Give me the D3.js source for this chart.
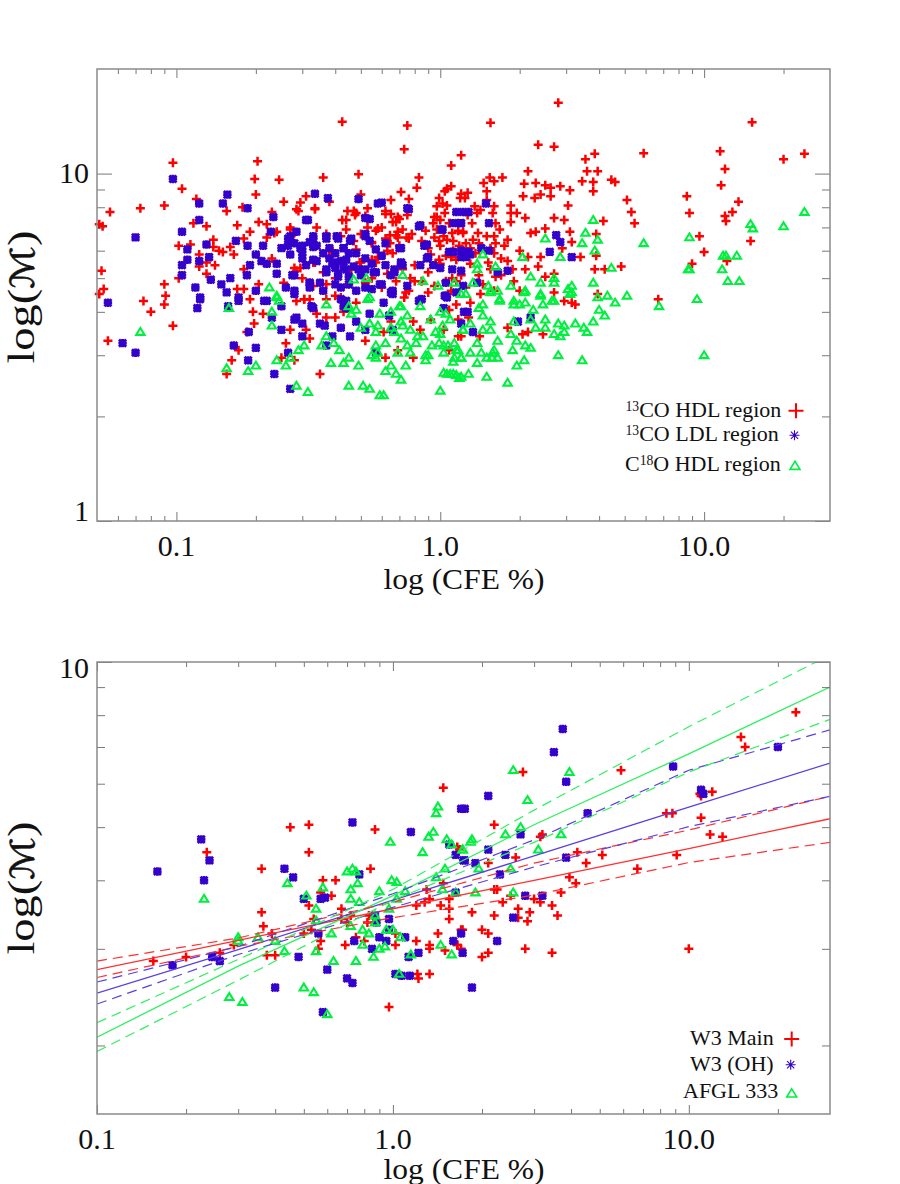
<!DOCTYPE html>
<html><head><meta charset="utf-8">
<script src="https://cdn.jsdelivr.net/npm/d3@7"></script>
<style>html,body{margin:0;padding:0;background:#fff}svg{display:block}text{font-family:"Liberation Serif","Times New Roman",serif;fill:#111}</style>
</head><body><div id="c"></div>
<script>
// Top panel: [CFE %, Mach number]
const hdl13CO = [[0.097,10.75],[0.105,9.05],[0.09,8.1],[0.073,7.95],[0.056,7.75],[0.051,7.15],[0.0525,7.05],[0.203,10.85],[0.198,9.65],[0.245,9.6],[0.2,8.7],[0.255,8.3],[0.295,8.25],[0.285,7.9],[0.31,8.6],[0.335,7.95],[0.36,9.75],[0.49,9.95],[0.425,14.1],[0.75,13.75],[0.73,11.75],[0.83,9.75],[0.815,9.1],[1.1,10.55],[1.1,9.2],[1.06,9.05],[1.04,8.9],[1.2,8.75],[1.19,8.5],[0.71,8.85],[0.76,8.45],[0.38,8.3],[0.5,8.7],[0.65,8.4],[0.53,7.95],[0.445,7.8],[0.47,7.8],[0.475,7.6],[0.52,7.55],[0.425,7.35],[0.62,7.8],[0.65,7.65],[0.69,7.5],[0.68,7.25],[0.66,7.25],[0.75,7.6],[0.99,8.5],[1.02,8.2],[0.97,8.05],[1.04,7.7],[0.95,7.5],[1.0,7.35],[1.08,7.2],[0.94,7.2],[0.97,6.9],[1.03,6.6],[1.06,6.45],[0.99,6.4],[1.17,6.85],[1.22,6.75],[1.11,6.75],[0.119,8.45],[0.155,7.8],[0.13,7.05],[0.116,7.2],[0.17,7.1],[0.19,6.8],[0.205,7.25],[0.22,7.15],[0.178,8.0],[0.23,7.75],[0.27,7.0],[0.24,6.8],[0.235,6.75],[0.22,6.55],[0.18,6.5],[0.16,6.15],[0.165,5.85],[0.138,6.45],[0.102,6.2],[0.113,6.25],[0.122,5.85],[0.138,6.15],[0.145,6.0],[0.15,5.95],[0.13,5.55],[0.122,5.4],[0.14,5.45],[0.13,5.15],[0.102,5.0],[0.052,5.25],[0.053,4.65],[0.051,4.5],[0.09,4.8],[0.091,4.45],[0.075,4.3],[0.17,4.65],[0.18,4.65],[0.19,4.35],[0.18,5.3],[0.205,4.8],[0.23,5.7],[0.255,4.85],[0.27,6.9],[0.28,6.75],[0.285,5.25],[0.295,5.35],[0.39,6.0],[0.38,5.75],[0.335,5.55],[0.48,6.05],[0.495,5.55],[0.57,5.55],[0.58,5.75],[0.66,5.9],[0.68,6.65],[0.645,6.65],[0.62,6.5],[0.645,6.3],[0.57,6.85],[0.58,6.95],[0.69,6.8],[0.745,6.55],[0.69,6.55],[0.99,5.65],[1.1,5.75],[1.12,6.0],[1.15,5.65],[1.11,5.0],[0.9,4.55],[0.74,4.55],[0.37,4.8],[0.4,4.45],[0.305,4.35],
[2.8,16],[1.55,14.0],[2.35,12.1],[2.7,11.95],[1.2,11.3],[3.85,11.4],[3.55,11.0],[3.6,10.15],[3.95,10.15],[3.45,9.5],[3.8,9.45],[3.8,8.9],[4.45,9.6],[4.6,9.45],[5.9,11.45],[5.1,8.4],[5.3,7.75],[5.45,7.2],[4.15,7.3],[2.15,10.15],[2.08,9.35],[2.3,9.4],[2.5,9.25],[2.62,9.1],[2.85,9.2],[3.1,8.95],[2.06,8.6],[2.4,8.7],[2.28,8.5],[2.62,8.6],[3.05,8.1],[2.7,7.45],[2.95,7.35],[2.5,6.95],[2.2,6.75],[3.1,6.8],[3.15,6.35],[2.3,6.8],[3.9,6.7],[2.9,6.1],[2.0,6.0],[2.15,5.75],[2.4,5.75],[2.35,5.4],[2.1,5.3],[2.5,5.05],[2.7,5.15],[3.4,5.75],[3.9,5.8],[3.85,5.3],[4.2,5.3],[4.85,5.4],[1.6,8.05],[1.85,8.1],[1.58,7.7],[1.85,7.7],[1.95,7.7],[2.1,7.45],[1.85,7.25],[1.62,7.2],[1.68,6.9],[1.6,6.6],[1.8,6.45],[1.24,8.5],[1.27,8.8],[1.46,9.4],[1.54,9.75],[1.6,9.5],[1.72,9.75],[1.5,8.9],[1.5,8.4],[1.35,8.05],[1.42,7.85],[1.38,7.7],[1.27,7.6],[1.32,7.2],[1.22,6.8],[1.39,6.75],[1.33,6.45],[1.62,6.3],[1.6,5.9],[1.52,5.55],[1.55,5.3],[1.62,5.05],[1.88,5.3],[1.42,4.5],[8.6,8.6],[8.8,7.7],[9.6,6.6],[10.0,5.95],[9.0,5.5],[11.5,11.6],[12.0,10.3],[11.6,9.25],[13.5,8.3],[12.8,7.75],[12,7.55],[12.1,7.3],[15.2,14.05],[20,11.0],[24,11.4],[15,6.4],[12.2,5.6],[6.7,4.35],[3.95,4.5],[2.95,4.3],[3.15,4.25],[3.25,4.2],[2.7,4.55],[2.0,4.6],[1.8,3.6],[2.05,3.45],[2.15,3.5],[2.45,3.45],[1.41,3.4],[1.2,3.4],
[0.055,3.3],[0.08,4.0],[0.09,4.2],[0.097,3.65],[0.162,2.9],[0.172,3.1],[0.185,3.5],[0.195,4.0],[0.197,3.7],[0.213,3.95],[0.26,3.25],[0.27,3.55],[0.32,3.35],[0.31,3.55],[0.285,4.3],[0.305,4.35],[0.35,2.65],[0.155,2.65],[0.25,2.95],[0.28,2.9],[0.62,2.95],[0.79,2.95],[1.08,3.1],[0.69,3.1],[0.61,3.5],[0.52,3.3],[0.65,3.75],[0.79,3.75],[0.84,3.55],[1.15,4.2],[1.08,4.05],[1.17,3.8],[1.17,3.4],[1.03,3.55],[0.92,3.8],[0.37,3.85],[0.4,3.85],[0.43,4.0],[0.34,3.95],[0.37,4.35],[0.42,4.4],[0.48,4.25],[0.73,4.4],[0.85,4.35],
[0.34,7.0],[0.37,6.7],[0.42,6.6],[0.44,6.9],[0.47,6.4],[0.5,6.7],[0.53,7.0],[0.55,6.3],[0.6,7.0],[0.63,6.0],[0.7,6.2],[0.72,6.9],[0.78,6.7],[0.85,6.4],[0.88,6.85],[0.9,6.1],[0.92,5.85],[0.95,6.55],[1.0,6.2],[1.05,5.8],[1.12,6.4],[1.18,6.2],[1.25,6.3],[1.3,6.1],[1.36,5.9],[1.4,6.3],[1.5,6.6],[1.55,6.1],[1.7,5.7],[1.75,6.2],[0.3,5.0],[0.33,4.75],[0.36,5.2],[0.4,5.0],[0.45,4.8],[0.46,5.3],[0.52,4.85],[0.55,5.0],[0.6,4.7],[0.63,5.15],[0.68,4.9],[0.72,5.3],[0.77,5.0],[0.8,5.45],[0.85,4.9],[0.9,5.2],[0.95,4.75],[1.0,5.5],[1.05,4.9],[1.1,4.6],[1.2,5.1],[1.25,4.7],[1.3,5.5],[1.4,5.1],[1.45,4.8],[1.6,4.6],[1.7,5.1],[1.8,5.6],[1.9,4.9],
[0.29,7.8],[0.335,7.9],[0.44,7.35],[0.48,7.7],[0.62,7.65],[0.7,7.4],[0.97,7.5],[1.06,8.1],[0.63,6.4],[0.76,6.5],[0.55,5.65],[0.55,6.35],[0.33,5.55],[0.28,5.35],[0.32,4.35],[0.39,5.9],[0.5,5.55],[0.8,4.9],[0.96,5.5],[1.15,4.9],[0.76,4.6],[1.3,4.25],[1.28,3.85]];
const ldl13CO = [[0.097,9.65],[0.07,6.55],[0.156,8.7],[0.15,8.2],[0.122,8.2],[0.122,7.35],[0.105,6.8],[0.11,6.05],[0.11,5.65],[0.105,5.45],[0.105,5.1],[0.122,5.6],[0.133,5.75],[0.13,6.25],[0.168,6.4],[0.186,7.95],[0.186,6.2],[0.213,6.2],[0.233,7.5],[0.228,6.8],[0.315,7.35],[0.335,8.75],[0.375,8.5],[0.49,8.45],[0.6,8.25],[0.75,7.95],[0.54,7.4],[0.285,6.8],[0.265,6.5],[0.33,6.6],[0.37,6.6],[0.405,6.6],[0.46,6.5],[0.52,6.7],[0.54,6.4],[0.32,6.35],[0.25,6.1],[0.27,5.85],[0.295,6.1],[0.2,5.85],[0.21,5.6],[0.24,5.5],[0.24,5.15],[0.185,5.1],[0.19,5.45],[0.275,5.1],[0.31,5.45],[0.3,5.7],[0.32,4.85],[0.32,4.7],[0.35,4.85],[0.37,5.3],[0.4,5.35],[0.43,6.1],[0.44,5.65],[0.4,5.55],[0.44,5.3],[0.41,5.05],[0.42,4.7],[0.45,4.8],[0.48,5.9],[0.52,5.7],[0.57,6.05],[0.62,5.45],[0.57,5.2],[0.52,5.3],[0.6,4.8],[0.66,4.5],[0.67,5.3],[0.71,5.55],[0.7,6.1],[0.72,5.45],[0.84,7.1],[0.87,6.2],[0.9,5.75],[0.84,5.45],[0.94,5.45],[1.0,5.35],[1.02,6.9],[1.12,7.2],[1.15,7.75],[1.08,5.95],[1.2,6.0],[1.2,5.75],[1.11,5.3],[0.75,4.75],[1.05,4.85],[1.15,4.55],[1.04,4.45],[0.135,4.95],[0.148,4.8],[0.155,4.55],[0.16,5.0],[0.118,4.7],[0.123,4.35],[0.172,4.3],[0.2,4.6],[0.055,4.25],[0.215,4.3],[0.26,4.7],[0.28,4.5],[0.65,4.55],
[0.0625,3.25],[0.07,3.05],[0.12,4.1],[0.123,4.4],[0.157,4.15],[0.172,4.4],[0.22,4.3],[0.25,4.15],[0.23,3.85],[0.25,3.55],[0.188,3.5],[0.165,3.2],[0.2,3.15],[0.265,3.05],[0.187,2.9],[0.235,2.65],[0.27,2.4],[0.285,3.85],[0.3,3.7],[0.3,3.4],[0.325,4.15],[0.35,3.7],[0.365,3.65],[0.39,3.4],[0.455,3.4],[0.42,3.6],[0.48,3.75],[0.54,3.95],[0.52,3.55],[0.43,4.15],[0.61,4.25],[0.85,4.35],[1.05,4.45],[1.03,4.1],[1.23,4.0],[0.57,3.05],[0.66,3.55],[0.37,3.2],
[1.49,8.2],[1.22,7.75],[1.53,7.2],[2.75,6.65],[2.85,6.35],[2.6,5.95],[3.15,5.75],[1.28,5.95],[1.25,5.75],[1.43,6.1],[1.53,6.0],[1.65,5.2],[1.8,5.25],[1.22,4.75],[1.38,4.85],[1.19,7.2],[1.27,4.0],[1.33,3.5],[1.97,3.75],[2.2,3.85],[1.2,3.7],
[0.34,6.2],[0.36,5.9],[0.38,6.1],[0.4,5.9],[0.42,5.6],[0.45,5.9],[0.47,5.4],[0.5,5.1],[0.55,5.5],[0.6,5.8],[0.62,6.3],[0.65,5.1],[0.38,5.7],[0.34,5.6],[0.3,6.2],[0.28,6.3],[0.27,6.6],[0.22,5.5],[0.45,5.05],[0.36,4.6],[0.42,4.35],[0.44,4.1],[0.48,4.6],[0.55,4.65],
[0.31,7.35],[0.33,6.5],[0.37,6.5],[0.41,6.5],[0.455,6.4],[0.52,6.6],[0.76,7.9],[0.83,7.05],[1.01,6.9],[1.28,7.75],[1.2,7.2],[1.12,5.95],[1.3,5.85],[1.2,5.25],[0.89,6.25],[0.71,6.1],[0.89,5.7],[0.71,5.5],[0.56,5.2],[0.67,5.2],[0.43,6.1],[0.265,6.2],[0.3,5.95],[0.33,6.15],[0.33,5.65],[0.28,5.1],[0.37,5.2],[0.41,5.15],[0.39,5.5],[0.43,5.38],[0.49,5.3],[0.4,4.8],[0.52,4.7],[0.59,4.8],[0.66,4.6],[0.28,4.6],[0.32,4.85],[0.33,4.1],[0.28,3.8],[0.44,4.3],[0.64,3.9],[0.83,4.3],[1.06,4.4],[0.58,8.2],[0.52,7.45]];
const hdlC18O = [[0.225,4.7],[0.24,4.4],[0.47,4.95],[0.525,5.0],[0.72,5.1],[0.86,4.9],[0.98,4.75],[1.13,4.85],[1.2,4.5],[0.53,4.35],[3.8,7.35],[3.55,6.75],[3.95,6.45],[3.45,6.3],[3.85,6.0],[2.85,5.75],[2.5,6.5],[2.05,5.75],[1.45,5.85],[1.38,5.5],[1.38,5.3],[1.62,5.4],[2.2,5.05],[2.4,4.85],[2.7,5.0],[2.7,4.85],[3.15,4.75],[3.05,4.65],[3.1,4.5],[3.8,4.85],[4.45,5.35],[5.9,6.3],[8.8,6.55],[8.8,5.3],[8.7,5.3],[11.8,5.8],[12.1,5.8],[13.3,5.8],[11.7,5.3],[12.3,4.9],[13.6,4.9],[15,7.15],[15.3,6.95],[20,7.05],[24,7.75],[3.95,4.4],[4.3,4.45],[5.1,4.45],[9.4,4.35],[2.08,4.55],[2.4,4.45],[1.85,4.75],[1.65,4.6],[1.55,4.6],[1.33,4.85],[1.52,4.75],[1.25,4.5],[2.65,4.3],[1.68,4.35],[1.9,4.3],
[6.75,4.15],[4.6,4.25],[4.0,4.05],[4.2,3.9],[3.8,3.75],[3.6,3.5],[3.5,3.6],[3.25,3.7],[2.95,3.65],[2.8,3.7],[2.5,3.8],[2.3,3.6],[2.5,3.6],[2.7,3.45],[2.85,3.4],[2.95,3.5],[2.25,4.05],[2.45,4.2],[2.7,4.3],[3.15,4.55],[2.4,4.5],[2.1,4.6],[2.1,4.25],[1.9,4.2],[2.0,4.2],[2.2,3.8],[1.9,3.75],[1.55,3.75],[1.85,3.45],[1.65,3.3],[1.95,3.3],[2.1,3.2],[2.2,3.15],[1.88,3.1],[2.8,3.0],[3.45,2.9],[10,3.0],[2.08,2.9],[1.95,2.8],[1.8,2.5],[1.5,2.6],[1.28,2.65],[1.2,2.6],[1.38,2.85],[1.2,2.95],[1.17,3.1],[1.38,3.25],[1.3,3.05],[1.43,3.05],[1.5,2.95],[1.58,3.05],[1.6,3.1],[1.65,2.95],[1.57,2.95],[1.22,3.55],[1.3,3.7],[1.45,3.9],[1.4,4.1],[1.45,3.55],[1.55,3.55],[1.45,4.2],[1.68,4.3],[1.55,4.55],
[0.073,3.5],[0.158,4.1],[0.24,4.45],[0.245,4.3],[0.23,4.0],[0.23,3.65],[0.37,4.2],[0.45,4.15],[0.46,3.95],[0.48,4.05],[0.54,4.4],[0.155,2.75],[0.187,2.7],[0.2,2.8],[0.24,2.9],[0.27,2.95],[0.26,2.8],[0.29,3.1],[0.305,3.2],[0.37,3.4],[0.355,3.2],[0.395,3.25],[0.415,3.1],[0.45,2.95],[0.43,2.85],[0.385,2.85],[0.49,2.8],[0.45,2.45],[0.51,2.45],[0.54,2.4],[0.59,2.3],[0.61,2.3],[0.285,2.45],[0.315,2.35],[1.0,2.37],[1.03,2.67],[1.06,2.65],[1.09,2.65],[1.12,2.65],[1.15,2.63],[1.18,2.58],[0.71,2.55],[0.68,2.65],[0.74,2.8],[0.65,2.8],[0.62,2.7],[0.88,2.9],[1.12,2.87],[1.2,2.95],[1.13,2.95],[0.57,2.95],[0.55,3.0],[0.58,3.05],[0.57,3.2],[0.62,3.25],[0.69,3.05],[0.77,3.05],[0.88,3.0],[0.9,3.0],[1.03,3.05],[1.15,3.1],[1.13,3.25],[1.07,3.2],[1.03,3.2],[0.99,3.25],[0.93,3.2],[0.81,3.25],[0.75,3.2],[0.71,3.35],[0.82,3.4],[0.86,3.4],[0.96,3.5],[1.0,3.45],[1.22,3.55],[0.67,3.5],[0.77,3.55],[0.71,3.75],[0.72,3.65],[0.65,3.6],[0.57,3.5],[0.58,3.65],[0.54,3.7],[0.5,3.6],[0.59,3.95],[0.65,4.0],[0.7,4.15],[0.71,4.15],[0.75,3.9],[0.84,4.15],[0.92,3.8],[1.0,4.0],[1.05,3.95],[1.09,3.8],[1.02,3.65]];

// Bottom panel: [CFE %, Mach number]
const w3Main = [[1.48,5.9],[0.45,5.0],[0.52,5.05],[0.87,4.95],[0.235,4.5],[0.52,4.5],[0.36,4.2],[0.84,4.2],[0.58,4.0],[0.64,4.0],[0.62,3.75],[0.52,3.6],[0.36,3.5],[0.67,3.55],[1.2,3.6],[1.33,3.7],[1.28,3.65],[1.45,3.6],[1.55,3.7],[1.55,3.55],[1.48,3.95],[1.3,3.85],[0.83,3.45],[0.72,3.45],[1.68,4.55],[0.57,3.8],[0.54,3.4],[0.155,2.85],[0.2,2.9],[0.26,2.95],[0.29,3.05],[0.365,3.3],[0.39,3.2],[0.5,3.2],[0.53,3.25],[0.67,3.4],[0.375,2.92],[0.4,2.92],[0.56,3.0],[0.57,3.1],[0.69,3.05],[0.8,3.1],[0.75,3.15],[0.82,3.35],[0.7,3.35],[0.97,2.35],[1.02,3.2],[1.02,3.05],[1.2,3.1],[1.33,3.05],[1.33,3.0],[1.42,3.2],[1.5,2.98],[1.22,2.65],[1.21,2.7],[1.33,2.7],[1.55,3.4],[1.72,3.25],[1.65,3.05],[1.7,3.0],[23,8.1],[15,7.3],[15.5,7.0],[5.9,6.35],[2.75,6.3],[10.9,5.75],[12,5.8],[11,5.7],[8.4,5.3],[8.8,5.3],[11,5.2],[11.8,4.85],[13,4.8],[9.1,4.45],[6.7,4.2],[2.2,5.05],[3.15,4.8],[3.2,4.85],[4.2,4.5],[5.1,4.45],[4.5,4.3],[3.95,4.05],[4.15,3.95],[3.7,3.8],[2.6,4.4],[2.1,4.3],[1.65,4.6],[2.2,3.85],[2.25,3.85],[2.5,3.75],[2.35,3.65],[3.0,3.7],[3.15,3.65],[3.45,3.6],[2.65,3.55],[2.9,3.5],[3.6,3.45],[1.85,3.5],[2.2,3.45],[2.65,3.42],[2.85,3.37],[2.0,3.25],[1.7,3.25],[2.1,3.2],[1.65,3.05],[2.8,3.0],[3.45,2.95],[2.1,2.95],[2.0,2.9],[10,3.0]];
const w3OH = [[0.16,4.15],[0.225,4.75],[0.24,4.35],[0.23,4.0],[0.43,4.2],[0.46,4.05],[0.5,3.7],[0.57,3.7],[0.59,3.72],[0.73,5.1],[0.77,4.1],[1.15,4.9],[1.7,5.4],[1.55,4.65],[1.63,4.45],[1.73,4.35],[1.63,3.8],[0.87,3.45],[0.97,3.4],[0.18,2.8],[0.245,2.9],[0.26,2.85],[0.4,2.55],[0.48,2.9],[0.56,3.2],[0.58,2.3],[0.6,2.75],[0.7,2.65],[0.73,2.6],[0.74,3.1],[0.85,3.0],[0.9,3.15],[0.95,3.1],[0.97,3.25],[1.1,3.15],[1.13,2.9],[1.22,2.95],[1.02,2.7],[1.07,2.68],[1.14,2.68],[1.6,3.1],[1.72,2.95],[1.7,3.2],[1.85,2.55],[0.88,3.35],[3.75,7.55],[3.5,6.85],[3.85,6.05],[4.55,5.3],[2.1,5.7],[1.75,5.4],[8.85,6.45],[20,7.0],[11,5.85],[11.2,5.75],[2.7,4.85],[2.1,4.55],[2.4,4.45],[3.85,4.4],[1.75,4.35],[1.9,4.3],[2.3,4.1],[2.8,3.75],[3.2,3.75],[2.55,3.42],[2.25,3.1]];
const afgl333 = [[0.23,3.7],[0.44,3.95],[0.51,3.75],[0.58,3.88],[0.55,3.55],[0.7,4.15],[0.73,4.2],[0.75,4.15],[0.72,3.85],[0.72,3.7],[0.76,3.95],[0.77,3.65],[0.98,4.7],[0.99,4.0],[1.03,3.97],[0.9,3.82],[1.03,3.7],[1.1,3.82],[0.97,3.55],[0.87,3.45],[1.26,4.5],[1.32,4.8],[1.37,4.9],[1.4,5.3],[1.42,5.45],[1.52,4.75],[1.58,4.65],[1.72,4.55],[1.83,4.7],[1.5,4.2],[1.4,4.05],[1.47,3.85],[1.63,3.8],[0.3,3.15],[0.3,3.1],[0.35,3.15],[0.4,3.1],[0.43,2.97],[0.55,2.97],[0.62,3.2],[0.63,2.85],[0.72,3.3],[0.79,3.25],[0.83,3.2],[0.87,3.35],[0.95,3.25],[1.0,3.25],[1.06,3.15],[0.79,3.05],[0.9,3.0],[0.94,3.03],[0.86,2.9],[0.75,2.85],[1.05,2.7],[1.15,2.93],[1.45,3.05],[1.58,2.93],[0.28,2.45],[0.31,2.4],[0.5,2.55],[0.54,2.5],[0.6,2.28],[0.55,3.38],[2.55,6.35],[3.95,6.3],[2.85,5.6],[2.7,5.0],[2.4,4.85],[3.7,4.85],[1.85,4.75],[1.72,4.55],[3.1,4.55],[1.95,4.2],[2.5,4.2],[1.9,3.8],[2.55,3.8]];

// Fitted relations and their error bands, read at these CFE values
const fitCFE = [0.1, 0.3, 1, 3, 10, 30];
const fitMainMid = [2.75, 3.11, 3.55, 4.0, 4.57, 5.18];
const fitMainHigh = [2.85, 3.14, 3.65, 4.3, 4.94, 5.69];
const fitMainLow = [2.66, 3.03, 3.42, 3.76, 4.31, 4.69];
const fitOHMid = [2.49, 2.99, 3.68, 4.43, 5.44, 6.54];
const fitOHHigh = [2.61, 3.03, 3.78, 4.74, 6.35, 7.52];
const fitOHLow = [2.38, 2.93, 3.57, 4.23, 5.01, 5.69];
const fitAFGLMid = [2.07, 2.79, 3.75, 5.05, 6.8, 9.0];
const fitAFGLHigh = [2.2, 2.87, 3.85, 5.37, 7.62, 10.3];
const fitAFGLLow = [1.95, 2.63, 3.68, 4.69, 6.3, 7.86];

const xMinor = [0.06,0.07,0.08,0.09,0.2,0.3,0.4,0.5,0.6,0.7,0.8,0.9,2,3,4,5,6,7,8,9,20];
const xMajorTop = [0.1,1,10];
const xLabelsTop = ["0.1","1.0","10.0"];
const yMinorTop = [2,3,4,5,6,7,8,9];
const xMinorBottom = [0.2,0.3,0.4,0.5,0.6,0.7,0.8,0.9,2,3,4,5,6,7,8,9,20];
const yMinorBottom = [2,3,4,5,6,7,8,9];

const RED="#ff0000", BLUE="#3300cc", GREEN="#00f040", AX="#8a8a8a";
const svg=d3.select("#c").append("svg").attr("width",900).attr("height",1184);

const symPlus=(g,c,s,w)=>g.append("path").attr("d",`M${-s},0H${s}M0,${-s}V${s}`).attr("stroke",c).attr("stroke-width",w).attr("fill","none");
const symStar=(g,c,s,w,f=0.72)=>{const k=s*f;g.append("path").attr("d",`M${-s},0H${s}M0,${-s}V${s}M${-k},${-k}L${k},${k}M${-k},${k}L${k},${-k}`).attr("stroke",c).attr("stroke-width",w).attr("fill","none");};
const symTri=(g,c,s,w)=>g.append("path").attr("d",`M0,${-s*0.95}L${s},${s*0.68}H${-s}Z`).attr("stroke",c).attr("stroke-width",w).attr("fill","none").attr("stroke-linejoin","miter");
const marks=(g,data,x,y,fn)=>data.forEach(d=>fn(g.append("g").attr("transform",`translate(${x(d[0])},${y(d[1])})`)));
const drawPlus=s=>symPlus(s,RED,4.5,2.5);
const drawBlob=s=>symStar(s,BLUE,4.2,2.8,0.85);
const drawTri=s=>symTri(s,GREEN,4.2,2.1);

function axes(g,x,y,L,R,T,B,xMin,yMin,xMaj,yMaj){
  const mk=(gen,tx,ty)=>{const a=g.append("g").attr("transform",`translate(${tx},${ty})`).call(gen);a.select(".domain").remove();a.selectAll("line").attr("stroke","#555").attr("stroke-width",0.8);a.selectAll("text").remove();};
  mk(d3.axisBottom(x).tickValues(xMin).tickSize(-5),0,B);
  mk(d3.axisBottom(x).tickValues(xMaj).tickSize(-9),0,B);
  mk(d3.axisTop(x).tickValues(xMin).tickSize(-5),0,T);
  mk(d3.axisTop(x).tickValues(xMaj).tickSize(-9),0,T);
  mk(d3.axisLeft(y).tickValues(yMin).tickSize(-8),L,0);
  mk(d3.axisLeft(y).tickValues(yMaj).tickSize(-15),L,0);
  mk(d3.axisRight(y).tickValues(yMin).tickSize(-8),R,0);
  mk(d3.axisRight(y).tickValues(yMaj).tickSize(-15),R,0);
  g.append("rect").attr("x",L).attr("y",T).attr("width",R-L).attr("height",B-T).attr("fill","none").attr("stroke",AX).attr("stroke-width",1.5);
}
function ylabel(cx,cy){
  const t=svg.append("text").attr("transform",`translate(${cx},${cy}) rotate(-90)`).attr("x",0).attr("y",0).attr("text-anchor","middle").attr("font-size",38).attr("textLength",133).attr("lengthAdjust","spacingAndGlyphs");
  t.append("tspan").text("log(");
  t.append("tspan").style("font-family","'DejaVu Sans'").attr("font-style","italic").attr("font-size",33).attr("stroke","#111").attr("stroke-width",0.5).text("ℳ");
  t.append("tspan").text(")");
}
function legendRow(x,y,parts,size){
  const t=svg.append("text").attr("x",x).attr("y",y).attr("font-size",size);
  parts.forEach(p=>{t.append("tspan").attr("dy",p[1]?-6:(p[2]?6:0)).attr("font-size",p[1]?size*0.62:size).text(p[0]);});
}

// ---------- top panel
{
 const L=97,R=830,T=69,B=521;
 const x=d3.scaleLog().domain([0.05,30]).range([L,R]);
 const y=d3.scaleLog().domain([1,20]).range([B,T]);
 const g=svg.append("g");
 const m=g.append("g");
 marks(m,hdl13CO,x,y,drawPlus);
 marks(m,ldl13CO,x,y,drawBlob);
 marks(m,hdlC18O,x,y,drawTri);
 axes(g,x,y,L,R,T,B,xMinor,yMinorTop,xMajorTop,[1,10]);
 xMajorTop.forEach((v,i)=>svg.append("text").attr("x",x(v)).attr("y",556).attr("text-anchor","middle").attr("font-size",30).text(xLabelsTop[i]));
 svg.append("text").attr("x",89).attr("y",183).attr("text-anchor","end").attr("font-size",30).text("10");
 svg.append("text").attr("x",89).attr("y",521).attr("text-anchor","end").attr("font-size",30).text("1");
 svg.append("text").attr("x",464).attr("y",589).attr("text-anchor","middle").attr("font-size",29).attr("textLength",161).attr("lengthAdjust","spacingAndGlyphs").text("log (CFE %)");
 ylabel(34,297);
 legendRow(625.5,416.7,[["13",1],["CO HDL region",0,1]],22);
 legendRow(625.5,440.7,[["13",1],["CO LDL region",0,1]],22);
 legendRow(625,471,[["C"],["18",1],["O HDL region",0,1]],22);
 const a=svg.append("g").attr("transform","translate(796,410.7)");symPlus(a,RED,7.5,2);
 const b=svg.append("g").attr("transform","translate(794.5,435.3)");symStar(b,BLUE,5,1.1);
 const c=svg.append("g").attr("transform","translate(795,466)");symTri(c,GREEN,5,1.6);
}
// ---------- bottom panel
{
 const L=97,R=830,T=662,B=1114;
 const x=d3.scaleLog().domain([0.1,30]).range([L,R]);
 const y=d3.scaleLog().domain([1.5,10]).range([B,T]);
 const g=svg.append("g");
 const clip=svg.append("clipPath").attr("id","bclip");
 clip.append("rect").attr("x",L).attr("y",T).attr("width",R-L).attr("height",B-T);
 const m=g.append("g");
 marks(m,w3Main,x,y,drawPlus);
 marks(m,w3OH,x,y,drawBlob);
 marks(m,afgl333,x,y,drawTri);
 const line=d3.line().x((d,i)=>x(fitCFE[i])).y(d=>y(d));
 const lg=g.append("g").attr("clip-path","url(#bclip)").attr("fill","none");
 [[fitMainMid,"#ff3030"],[fitOHMid,"#5a3fe0"],[fitAFGLMid,"#30f060"]].forEach(r=>lg.append("path").attr("d",line(r[0])).attr("stroke",r[1]).attr("stroke-width",1.3));
 [[fitMainHigh,"#ff3030"],[fitMainLow,"#ff3030"],[fitOHHigh,"#5a3fe0"],[fitOHLow,"#5a3fe0"],[fitAFGLHigh,"#30f060"],[fitAFGLLow,"#30f060"]].forEach(r=>lg.append("path").attr("d",line(r[0])).attr("stroke",r[1]).attr("stroke-width",1.2).attr("stroke-dasharray","10 6"));
 axes(g,x,y,L,R,T,B,xMinorBottom,yMinorBottom,[0.1,1,10],[10]);
 [0.1,1,10].forEach((v,i)=>svg.append("text").attr("x",x(v)).attr("y",1149).attr("text-anchor","middle").attr("font-size",30).text(xLabelsTop[i]));
 svg.append("text").attr("x",89).attr("y",678).attr("text-anchor","end").attr("font-size",30).text("10");
 svg.append("text").attr("x",464).attr("y",1179).attr("text-anchor","middle").attr("font-size",29).attr("textLength",161).attr("lengthAdjust","spacingAndGlyphs").text("log (CFE %)");
 ylabel(34,888);
 svg.append("text").attr("x",690).attr("y",1045).attr("font-size",22).text("W3 Main");
 svg.append("text").attr("x",690).attr("y",1071).attr("font-size",22).text("W3 (OH)");
 svg.append("text").attr("x",683).attr("y",1098.3).attr("font-size",22).text("AFGL 333");
 const a=svg.append("g").attr("transform","translate(791.7,1039)");symPlus(a,RED,7.5,2);
 const b=svg.append("g").attr("transform","translate(790.7,1064.7)");symStar(b,BLUE,5,1.1);
 const c=svg.append("g").attr("transform","translate(791.7,1093.6)");symTri(c,GREEN,5,1.6);
}
</script></body></html>
